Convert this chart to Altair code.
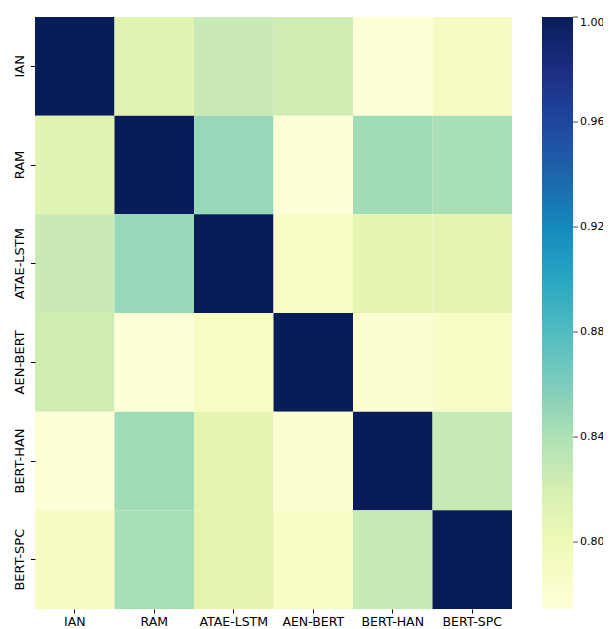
import altair as alt
import pandas as pd

models = ["IAN", "RAM", "ATAE-LSTM", "AEN-BERT", "BERT-HAN", "BERT-SPC"]
row_IAN = [1.000, 0.810, 0.829, 0.824, 0.776, 0.791]
row_RAM = [0.810, 1.000, 0.849, 0.776, 0.845, 0.842]
row_ATAE = [0.829, 0.849, 1.000, 0.789, 0.808, 0.808]
row_AEN = [0.824, 0.776, 0.789, 1.000, 0.780, 0.787]
row_HAN = [0.776, 0.845, 0.808, 0.780, 1.000, 0.830]
row_SPC = [0.791, 0.842, 0.808, 0.787, 0.830, 1.000]
rows = [row_IAN, row_RAM, row_ATAE, row_AEN, row_HAN, row_SPC]

cbar_ticks = [0.80, 0.84, 0.88, 0.92, 0.96, 1.00]
vmin, vmax = 0.7745, 1.0
ylgnbu = ["#ffffd9", "#edf8b1", "#c7e9b4", "#7fcdbb", "#41b6c4",
          "#1d91c0", "#225ea8", "#253494", "#081d58"]

records = []
for r, vals in zip(models, rows):
    for c, v in zip(models, vals):
        records.append({"row": r, "col": c, "value": v})
df = pd.DataFrame(records)
ticks_df = pd.DataFrame({"t": cbar_ticks})

stops = [vmin + (vmax - vmin) * i / 8 for i in range(9)]
FONT = "DejaVu Sans"
FS = 13

heat = alt.Chart(df).mark_rect().encode(
    x=alt.X("col:N", sort=models, title=None,
            axis=alt.Axis(labelAngle=0, domain=False, tickSize=4, tickColor="black",
                          labelColor="black", labelFontSize=12.5, labelPadding=2,
                          labelFont=FONT)),
    y=alt.Y("row:N", sort=models, title=None,
            axis=alt.Axis(labelAngle=270, domain=False, tickSize=4.5, tickColor="black",
                          labelColor="black", labelFontSize=FS, labelPadding=4,
                          labelFont=FONT, labelBaseline="bottom",
                          labelAlign="center")),
    color=alt.Color("value:Q",
                    scale=alt.Scale(domain=stops, range=ylgnbu, clamp=True),
                    legend=alt.Legend(title=None, values=cbar_ticks, format=".2f",
                                      gradientLength=592, gradientThickness=31,
                                      gradientStrokeWidth=0, offset=30, padding=0,
                                      labelFontSize=11, labelColor="black",
                                      labelFont=FONT, labelOffset=7,
                                      labelOverlap=False)),
)

cbar_ticks_layer = alt.Chart(ticks_df).mark_tick(
    color="black", orient="horizontal", size=5, thickness=1
).encode(
    y=alt.Y("t:Q", scale=alt.Scale(domain=[vmin, vmax], nice=False, zero=False), axis=None),
    x=alt.value(540.5),
)

chart = alt.layer(heat, cbar_ticks_layer).resolve_scale(y="independent").properties(
    width=477, height=592,
    autosize=alt.AutoSizeParams(type="none"),
    padding={"left": 27, "top": 9, "right": 91, "bottom": 20},
).configure_view(stroke=None).configure_scale(bandPaddingInner=0, bandPaddingOuter=0)

chart.save("out.html", embed_options={"renderer": "svg", "actions": False})
